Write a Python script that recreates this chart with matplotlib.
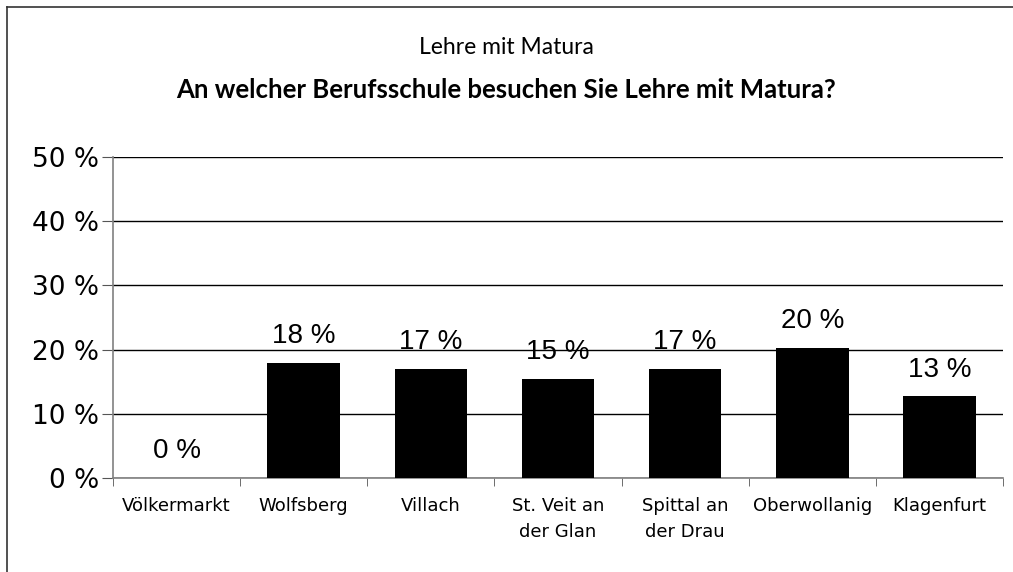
import matplotlib
matplotlib.use('Agg')
import matplotlib.pyplot as plt
from matplotlib.lines import Line2D
import numpy as np

schools = ['Völkermarkt', 'Wolfsberg', 'Villach', 'St. Veit an\nder Glan',
           'Spittal an\nder Drau', 'Oberwollanig', 'Klagenfurt']
shares = [0.0, 17.9, 17.0, 15.4, 17.0, 20.2, 12.7]
yticks = [0, 10, 20, 30, 40, 50]

title = 'Lehre mit Matura'
subtitle = 'An welcher Berufsschule besuchen Sie Lehre mit Matura?'

fig = plt.figure(figsize=(10.13, 5.72), dpi=100, facecolor='w')
ax = fig.add_axes([113/1013, 1 - 478/572, (1003 - 113)/1013, (478 - 157)/572])

x = np.arange(len(schools))
ax.bar(x, shares, width=0.57, color='black', zorder=3)

for xi, v in zip(x, shares):
    ax.annotate('%d %%' % round(v), (xi, v), xytext=(0, 10), textcoords='offset points',
                ha='center', va='bottom', fontsize=20, family='Liberation Sans', zorder=4)

ax.set_xlim(-0.5, len(schools) - 0.5)
ax.set_ylim(0, 50)
ax.set_yticks(yticks)
ax.set_yticklabels(['%d %%' % t for t in yticks], fontsize=19, family='DejaVu Sans')
ax.yaxis.grid(True, color='black', linewidth=1.0, zorder=0)

ax.set_xticks(x)
ax.set_xticklabels(schools, fontsize=13, family='DejaVu Sans', linespacing=1.55)
ax.set_xticks(np.arange(len(schools) + 1) - 0.5, minor=True)
ax.tick_params(axis='x', which='major', length=0, pad=14)
ax.tick_params(axis='x', which='minor', length=6, color='#555555', direction='out')
ax.tick_params(axis='y', length=8, color='#555555', pad=2)

for s in ['top', 'right']:
    ax.spines[s].set_visible(False)
for s in ['left', 'bottom']:
    ax.spines[s].set_color('#808080')
    ax.spines[s].set_linewidth(1.2)

fig.text(0.5, 1 - 48/572, title, ha='center', va='center', fontsize=16.5, family='Lato')
fig.text(0.5, 1 - 90/572, subtitle, ha='center', va='center', fontsize=18.5,
         family='Lato', weight='bold')

# chart frame (only top and left edges visible in the original)
fig.add_artist(Line2D([7/1013, 1], [1 - 7/572, 1 - 7/572], color='#333333', lw=1.2,
                      transform=fig.transFigure))
fig.add_artist(Line2D([7/1013, 7/1013], [0, 1 - 7/572], color='#333333', lw=1.2,
                      transform=fig.transFigure))

fig.savefig('out.png', dpi=100)
